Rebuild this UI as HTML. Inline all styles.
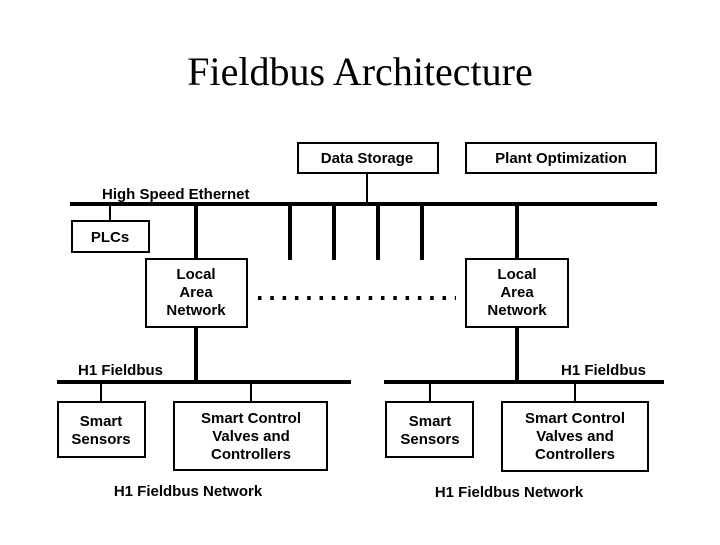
<!DOCTYPE html>
<html><head><style>body{margin:0;background:#fff}</style></head><body>
<svg width="720" height="540" viewBox="0 0 720 540" xmlns="http://www.w3.org/2000/svg">
<rect width="720" height="540" fill="#fff"/>
<text x="360" y="85" text-anchor="middle" font-family="Liberation Serif, serif" font-size="40">Fieldbus Architecture</text>
<g font-family="Liberation Sans, sans-serif" font-weight="bold" font-size="15" fill="#000">
<g stroke="#000" fill="none" stroke-width="2">
<rect x="298" y="143" width="140" height="30"/>
<rect x="466" y="143" width="190" height="30"/>
<rect x="72" y="221" width="77" height="31"/>
<rect x="146" y="259" width="101" height="68"/>
<rect x="466" y="259" width="102" height="68"/>
<rect x="58" y="402" width="87" height="55"/>
<rect x="174" y="402" width="153" height="68"/>
<rect x="386" y="402" width="87" height="55"/>
<rect x="502" y="402" width="146" height="69"/>
<line x1="367" y1="173" x2="367" y2="204"/>
<line x1="110" y1="204" x2="110" y2="221"/>
<line x1="101" y1="382" x2="101" y2="402"/>
<line x1="251" y1="382" x2="251" y2="402"/>
<line x1="430" y1="382" x2="430" y2="402"/>
<line x1="575" y1="382" x2="575" y2="402"/>
</g>
<g stroke="#000" stroke-width="4">
<line x1="70" y1="204" x2="657" y2="204"/>
<line x1="196" y1="204" x2="196" y2="259"/>
<line x1="196" y1="327" x2="196" y2="382"/>
<line x1="517" y1="204" x2="517" y2="259"/>
<line x1="517" y1="327" x2="517" y2="382"/>
<line x1="290" y1="204" x2="290" y2="260"/>
<line x1="334" y1="204" x2="334" y2="260"/>
<line x1="378" y1="204" x2="378" y2="260"/>
<line x1="422" y1="204" x2="422" y2="260"/>
<line x1="57" y1="382" x2="351" y2="382"/>
<line x1="384" y1="382" x2="664" y2="382"/>
<line x1="258" y1="298" x2="456" y2="298" stroke-dasharray="3.5 8.8" stroke-width="4"/>
</g>
<text x="367" y="163" text-anchor="middle">Data Storage</text>
<text x="561" y="163" text-anchor="middle">Plant Optimization</text>
<text x="102" y="199">High Speed Ethernet</text>
<text x="110" y="242" text-anchor="middle">PLCs</text>
<text x="196" y="279" text-anchor="middle">Local</text>
<text x="196" y="297" text-anchor="middle">Area</text>
<text x="196" y="315" text-anchor="middle">Network</text>
<text x="517" y="279" text-anchor="middle">Local</text>
<text x="517" y="297" text-anchor="middle">Area</text>
<text x="517" y="315" text-anchor="middle">Network</text>
<text x="78" y="375">H1 Fieldbus</text>
<text x="646" y="375" text-anchor="end">H1 Fieldbus</text>
<text x="101" y="426" text-anchor="middle">Smart</text>
<text x="101" y="444" text-anchor="middle">Sensors</text>
<text x="251" y="423" text-anchor="middle">Smart Control</text>
<text x="251" y="441" text-anchor="middle">Valves and</text>
<text x="251" y="459" text-anchor="middle">Controllers</text>
<text x="430" y="426" text-anchor="middle">Smart</text>
<text x="430" y="444" text-anchor="middle">Sensors</text>
<text x="575" y="423" text-anchor="middle">Smart Control</text>
<text x="575" y="441" text-anchor="middle">Valves and</text>
<text x="575" y="459" text-anchor="middle">Controllers</text>
<text x="188" y="496" text-anchor="middle">H1 Fieldbus Network</text>
<text x="509" y="497" text-anchor="middle">H1 Fieldbus Network</text>
</g>
</svg>
</body></html>
